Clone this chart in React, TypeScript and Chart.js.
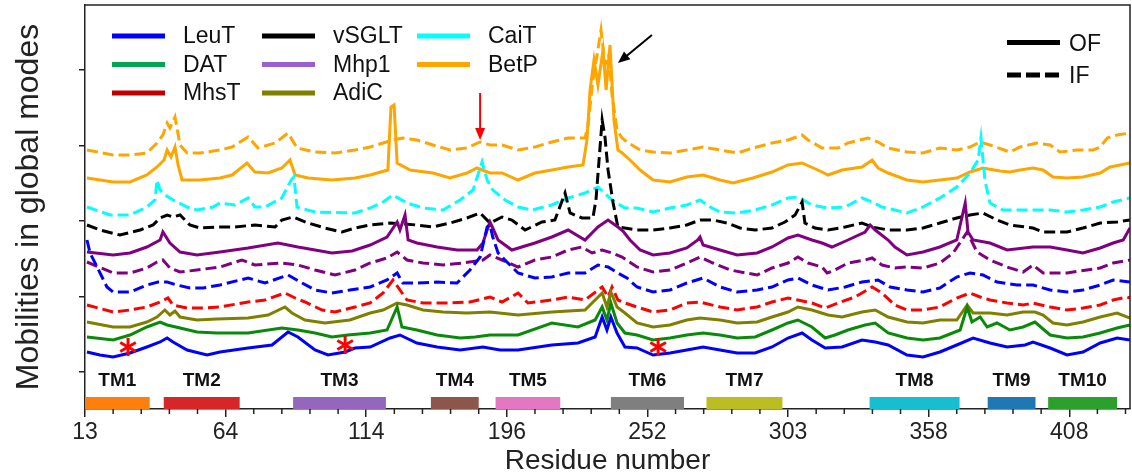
import React, { useEffect, useRef } from 'react';
import { Chart, registerables } from 'chart.js';

Chart.register(...registerables);

// ---- axis data ----
const tickPositions = [0, 50, 100, 150, 200, 250, 300, 350];
const tickLabels = ['13', '64', '114', '196', '252', '303', '358', '408'];
const xMax = 371.6;
const yTickValues = [37, 112.5, 188, 263.5, 339];
const yMax = 404;

// ---- legend data ----
const proteins = ['LeuT', 'DAT', 'MhsT', 'vSGLT', 'Mhp1', 'AdiC', 'CaiT', 'BetP'];
const legendColors = ['#0000FF', '#00A651', '#C00000', '#000000', '#9B5FD0', '#808000', '#00FFFF', '#FFA500'];
const lineColors = ['#0000FF', '#0A8A0A', '#FF0000', '#000000', '#800080', '#808000', '#00FFFF', '#FFA500'];
const stateNames = ['OF', 'IF'];

// ---- TM helices ----
const tmNames = ['TM1', 'TM2', 'TM3', 'TM4', 'TM5', 'TM6', 'TM7', 'TM8', 'TM9', 'TM10'];
const tmStart = [0, 28, 74, 123, 146, 187, 221, 279, 321, 342.5];
const tmEnd = [23, 55, 107, 140, 169, 213, 248, 311, 338, 367];
const tmColors = ['#ff7f0e', '#d62728', '#9467bd', '#8c564b', '#e377c2', '#7f7f7f', '#bcbd22', '#17becf', '#1f77b4', '#2ca02c'];

// ---- annotations ----
const asteriskX = [15.3, 92.5, 203.8];
const asteriskY = [62, 64, 62];
const arrowFrom: [number, number][] = [[140.5, 316], [201.6, 374]];
const arrowTo: [number, number][] = [[140.5, 269], [189.5, 346]];
const arrowColors = ['#FF0000', '#000000'];

// ---- series (alignment position, mobility) ----
const leuT_OF: [number, number][] = [
  [0.7, 57], [5.3, 54], [10, 52], [16, 56], [22, 62], [26.7, 67], [29.2, 71], [31.3, 67], [36.3, 59], [43.4, 54],
  [48, 57], [58, 61], [66.5, 64], [72.2, 77], [75.7, 72], [81.8, 59], [86.4, 54], [92.5, 57], [96, 61], [101.4, 62],
  [108.5, 71], [112, 74], [118, 66], [125.2, 62], [133.4, 59], [141.5, 62], [147.6, 59], [154, 59], [166, 64], [175.3, 66],
  [181.4, 72], [183.9, 92], [185.6, 79], [187, 92], [189.2, 76], [192, 62], [196.3, 61], [202, 54], [208, 56], [214, 59],
  [219.8, 62], [225.8, 59], [231.9, 56], [238.3, 56], [244.3, 62], [250, 71], [255, 76], [258.5, 69], [263.2, 61], [269.2, 62],
  [276.3, 69], [281, 67], [285.6, 64], [292.3, 54], [298, 52], [304, 57], [310, 64], [315.8, 71], [321.8, 66], [327.9, 62],
  [334.3, 64], [337.1, 67], [343.2, 61], [349.2, 54], [354.9, 57], [361, 66], [367, 71], [371.6, 69],
];

const dat_OF: [number, number][] = [
  [0.7, 72], [10, 69], [16, 74], [22, 82], [26.7, 87], [29.2, 84], [33.8, 81], [39.8, 77], [46.9, 76], [58, 76],
  [70, 81], [75.7, 79], [81.8, 76], [87.8, 72], [93.5, 74], [101.4, 76], [107.4, 79], [111, 102], [112.7, 82], [118, 79],
  [125.2, 74], [133.4, 71], [138.7, 72], [144, 74], [154, 74], [166, 86], [175.3, 82], [181.4, 89], [183.9, 102], [185.6, 89],
  [187, 106], [189.2, 86], [192, 76], [196.3, 74], [202, 69], [208, 71], [214, 74], [219.8, 76], [225.8, 74], [231.9, 71],
  [238.3, 72], [244.3, 79], [250, 86], [253.5, 89], [258.5, 82], [263.2, 71], [266.7, 74], [271.3, 79], [277.4, 84], [281, 86],
  [285.6, 76], [292.3, 71], [298, 69], [304, 71], [311.2, 79], [313.7, 102], [315.4, 87], [318.3, 92], [320.8, 82], [324.3, 86],
  [328.9, 79], [333.6, 82], [337.8, 87], [343.2, 74], [349.2, 71], [354.9, 72], [361, 76], [367, 81], [371.6, 84],
];

const adiC_OF: [number, number][] = [
  [0.7, 87], [10, 82], [16, 82], [22, 87], [25.6, 92], [28.4, 99], [30.2, 94], [32, 98], [33.8, 92], [39.8, 89],
  [46.9, 90], [58, 91], [65.1, 94], [71.1, 102], [73.6, 96], [78.2, 89], [85.3, 86], [94.2, 89], [101.4, 96], [106, 99],
  [111, 106], [114.5, 104], [120.2, 99], [127.3, 97], [135.8, 96], [144, 97], [154, 94], [166, 97], [177.8, 99], [183.9, 116],
  [185.6, 102], [187, 117], [189.2, 102], [192, 96], [196.3, 86], [202, 82], [208, 84], [214, 89], [218.7, 91], [225.8, 89],
  [231.9, 86], [239, 87], [244.3, 92], [250, 97], [253.5, 102], [258.5, 99], [264.2, 94], [269.2, 92], [276.3, 97], [281, 99],
  [285.6, 92], [292.3, 87], [298, 86], [304, 89], [310, 89], [313.7, 104], [315.8, 96], [321.8, 96], [327.9, 94], [333.6, 97],
  [337.8, 97], [340.7, 94], [344.2, 86], [349.2, 84], [354.9, 87], [361, 92], [367, 96], [371.6, 91],
];

const mhsT_IF: [number, number][] = [
  [0.7, 104], [10, 97], [16, 99], [22, 102], [26.7, 107], [29.5, 111], [31.3, 104], [36.3, 101], [42, 101], [48, 102],
  [58, 107], [64, 109], [71.1, 116], [74.7, 111], [78.2, 107], [84.3, 99], [88.9, 97], [96, 102], [101.4, 106], [106, 116],
  [109.5, 129], [112, 119], [114.5, 109], [120.2, 106], [129.8, 106], [136.9, 107], [144, 112], [148.3, 107], [154, 116], [157.5, 106],
  [166, 109], [171.8, 112], [177.8, 109], [183.9, 122], [186, 112], [187.4, 122], [189.5, 109], [192, 106], [196.3, 102], [202, 97],
  [208, 99], [214, 106], [218.7, 107], [225.8, 102], [231.9, 99], [239, 102], [244.3, 107], [250, 111], [253.5, 109], [258.5, 106],
  [263.2, 101], [267.8, 106], [273.8, 112], [279.9, 122], [283.4, 116], [288, 104], [292.3, 99], [298, 99], [304, 102], [310, 111],
  [314.7, 116], [318.3, 112], [321.8, 109], [327.9, 106], [333.6, 104], [337.1, 106], [343.2, 102], [349.2, 99], [354.9, 101], [361, 104],
  [365.6, 109], [370.5, 112], [371.6, 111],
];

const leuT_IF: [number, number][] = [
  [0.7, 169], [1.8, 156], [4.3, 142], [7.8, 122], [10, 117], [16, 117], [22, 124], [26, 127], [29.2, 127], [32.7, 124],
  [37.3, 121], [42, 121], [48, 124], [58, 131], [64, 126], [72.2, 134], [77.2, 126], [81.8, 119], [87.8, 116], [94.2, 119],
  [101.4, 122], [107.4, 129], [111, 136], [113, 126], [118, 126], [125.2, 127], [132.3, 126], [136.9, 139], [140.5, 152], [143, 182],
  [144, 184], [145, 172], [146.9, 156], [150.4, 146], [154, 136], [160, 131], [166, 132], [171.8, 136], [177.8, 136], [182.4, 144],
  [186, 142], [189.5, 136], [192.7, 131], [196.3, 122], [202, 117], [208, 119], [214, 126], [219.8, 131], [225.8, 122], [231.9, 117],
  [239, 119], [244.3, 122], [250, 129], [253.5, 131], [258.5, 124], [264.2, 119], [270.3, 122], [276.3, 127], [282, 129], [286.3, 122],
  [292.3, 119], [298, 117], [304, 121], [310, 132], [314.7, 136], [319.3, 134], [324.3, 127], [331.4, 124], [337.1, 124], [343.2, 119],
  [349.2, 117], [354.9, 119], [361, 124], [365.6, 129], [371.6, 127],
];

const mhp1_IF: [number, number][] = [
  [0.7, 147], [10, 136], [16, 136], [22, 141], [25.6, 147], [27.7, 149], [30.2, 141], [33.8, 137], [39.8, 139], [48, 142],
  [55.8, 149], [60.4, 144], [70, 146], [75.7, 144], [81.8, 139], [88.9, 134], [96, 139], [101.4, 146], [107.4, 151], [111, 157],
  [114.5, 149], [120.2, 146], [127.3, 144], [134.4, 146], [141.5, 149], [144, 154], [148.3, 149], [154, 142], [160, 149], [166, 152],
  [171.8, 159], [176.7, 162], [180.3, 156], [183.9, 159], [187.4, 156], [191, 152], [196.3, 142], [202, 137], [208, 139], [214, 146],
  [218.7, 152], [223.3, 146], [229.4, 139], [239, 134], [244.3, 141], [250, 146], [253.5, 152], [257.1, 146], [262.1, 142], [263.9, 136],
  [266.7, 139], [271.3, 146], [277.4, 149], [279.9, 151], [283.4, 144], [288, 141], [292.3, 142], [298, 141], [304, 146], [308.7, 156],
  [313.7, 177], [317.2, 157], [321.8, 149], [327.9, 142], [333.6, 137], [337.1, 144], [340.7, 136], [349.2, 136], [356.3, 139], [361, 141],
  [365.6, 146], [371.6, 149],
];

const mhp1_OF: [number, number][] = [
  [0.7, 157], [10, 154], [16, 156], [22, 162], [26.7, 169], [27.7, 177], [30.2, 166], [33.8, 157], [39.8, 154], [48, 157],
  [58, 161], [68.6, 166], [75.7, 162], [81.8, 159], [87.8, 156], [95, 158], [101.4, 164], [107.4, 172], [111, 187], [112, 179],
  [113.8, 194], [114.9, 169], [118, 166], [125.2, 162], [132.3, 159], [139.4, 159], [141.5, 166], [143, 179], [144, 187], [145, 181],
  [146.9, 169], [151.8, 159], [160, 166], [166, 172], [171.8, 179], [177.8, 169], [182.4, 182], [186, 189], [189.5, 182], [191.3, 178],
  [193.8, 169], [197.4, 159], [202, 154], [208, 156], [214, 161], [217.9, 169], [218.7, 172], [219.8, 164], [225.8, 159], [231.9, 154],
  [239, 156], [244.3, 162], [250, 171], [253.5, 174], [258.5, 169], [262.1, 166], [265.6, 162], [271.3, 169], [277.4, 177], [279.2, 184],
  [281, 179], [285.6, 169], [288, 162], [292.3, 154], [298, 157], [304, 162], [310, 169], [313, 206], [314, 177], [315.8, 169],
  [321.8, 166], [327.9, 159], [337.1, 162], [343.2, 162], [349.2, 159], [354.9, 156], [361, 161], [365.6, 166], [369.2, 169], [371.6, 181],
];

const vSGLT_IF: [number, number][] = [
  [0.7, 184], [5.3, 179], [12.4, 174], [19.6, 179], [24.2, 184], [26.7, 191], [29.2, 194], [31.3, 192], [33.8, 194], [37.3, 184],
  [40.9, 181], [48, 182], [53.3, 182], [60.4, 184], [67.6, 182], [70, 189], [74, 192], [79.3, 186], [85.3, 181], [91.4, 177],
  [96, 181], [101.4, 184], [108.5, 186], [118, 184], [123.7, 182], [129.8, 186], [135.8, 191], [140.5, 196], [144, 186], [148.3, 192],
  [151.8, 189], [156.5, 179], [162.5, 187], [167.1, 189], [170.7, 216], [172.5, 196], [176.7, 191], [180.6, 191], [181.7, 209], [182.8, 249],
  [183.9, 289], [184.9, 272], [186, 239], [187.8, 206], [189.5, 182], [196.3, 179], [202, 179], [208, 181], [214, 184], [218.7, 189],
  [223.3, 189], [228.3, 186], [232.9, 181], [238.3, 179], [244.3, 181], [248.9, 187], [252.5, 194], [255, 207], [256, 186], [259.6, 181],
  [264.2, 179], [270.3, 182], [276.3, 186], [279.9, 182], [285.6, 179], [292.3, 179], [298, 181], [304, 186], [310, 191], [314.7, 194],
  [319.3, 196], [324.3, 189], [328.9, 184], [337.1, 181], [340.7, 177], [349.2, 177], [354.9, 181], [361, 186], [367, 187], [371.6, 189],
];

const caiT_IF: [number, number][] = [
  [0.7, 202], [8.9, 194], [16, 194], [22, 202], [24.9, 209], [25.6, 229], [26.7, 219], [28.4, 214], [31.3, 209], [36.3, 202],
  [39.8, 199], [45.5, 202], [48, 206], [53.3, 204], [58, 211], [60.4, 202], [64, 202], [70, 211], [73.3, 229], [74.3, 232],
  [75.4, 202], [81.8, 197], [96, 196], [101.4, 201], [106, 207], [109.5, 214], [114.5, 206], [120.2, 201], [127.3, 199], [133.4, 209],
  [138, 219], [141.2, 247], [143, 229], [145, 219], [149.4, 209], [154, 202], [159, 199], [166, 204], [171.8, 211], [177.8, 216],
  [182.4, 222], [187.4, 209], [192, 201], [196.3, 201], [202, 197], [208, 201], [214, 204], [218.7, 209], [222.3, 202], [225.8, 197],
  [231.9, 196], [238.3, 199], [244.3, 204], [250, 211], [253.5, 212], [258.5, 204], [264.2, 201], [270.3, 202], [276.3, 211], [279.9, 207],
  [283.4, 202], [288, 199], [292.3, 196], [298, 202], [304, 211], [310, 222], [314.7, 236], [317.6, 249], [318.6, 271], [320, 229],
  [321.8, 206], [326.4, 199], [333.6, 199], [343.2, 199], [349.2, 197], [354.9, 199], [361, 202], [365.6, 207], [371.6, 211],
];

const betP_OF: [number, number][] = [
  [0.7, 231], [10, 227], [16, 227], [22, 234], [25.6, 242], [28.1, 249], [29.2, 259], [30.6, 252], [32, 262], [33.1, 244],
  [34.5, 229], [40.9, 229], [48, 231], [52.3, 234], [57.6, 246], [60.4, 237], [65.1, 236], [70, 241], [72.9, 249], [74.7, 234],
  [79.3, 231], [87.8, 229], [96, 231], [101.4, 234], [107.7, 239], [108.8, 302], [109.9, 304], [111, 246], [115.6, 239], [123.7, 236],
  [129.8, 231], [135.8, 236], [139.4, 241], [144, 236], [148.3, 236], [154, 229], [160, 236], [166, 239], [171.8, 242], [177.1, 244],
  [178.5, 269], [179.6, 319], [181, 349], [182.4, 324], [184.2, 359], [185.3, 319], [186.7, 364], [188.1, 289], [189.5, 259], [191, 256],
  [193.8, 249], [197.4, 239], [202, 229], [208, 227], [214, 232], [219.8, 234], [225.8, 229], [230.4, 226], [237.5, 231], [244.3, 237],
  [250, 244], [255, 246], [262.1, 237], [264.2, 234], [269.2, 239], [276.3, 242], [279.9, 249], [282, 241], [285.6, 236], [292.3, 229],
  [298, 227], [304, 229], [310, 231], [314.7, 237], [319.3, 241], [325.4, 238], [328.9, 237], [332.5, 239], [337.1, 241], [340.7, 239],
  [344.2, 232], [349.2, 231], [354.9, 232], [361, 236], [364.5, 242], [371.6, 246],
];

const betP_IF: [number, number][] = [
  [0.7, 259], [10, 254], [16, 254], [22, 256], [25.6, 266], [27.7, 274], [29.2, 286], [30.2, 281], [32, 292], [33.8, 264],
  [36.3, 256], [40.9, 256], [48, 259], [52.3, 262], [58, 272], [61.5, 261], [67.6, 266], [72.2, 276], [75.4, 261], [81.8, 257],
  [88.9, 256], [96, 259], [101.4, 262], [106, 266], [109.5, 269], [113, 271], [118, 269], [123.7, 264], [129.8, 259], [135.8, 261],
  [140.5, 267], [144, 264], [148.3, 264], [154, 259], [160, 262], [166, 267], [171.8, 271], [177.8, 271], [178.9, 284], [180.6, 329],
  [182.1, 354], [183.5, 379], [184.9, 344], [186.3, 354], [187.4, 314], [189.2, 279], [191, 271], [192.7, 267], [197.4, 259], [202, 257],
  [208, 256], [214, 259], [219.8, 262], [225.8, 259], [231.9, 256], [237.5, 261], [244.3, 266], [250, 269], [255, 274], [257.1, 269],
  [262.1, 261], [267.8, 261], [271.3, 266], [278.4, 271], [282, 267], [285.6, 261], [292.3, 257], [298, 256], [304, 261], [310, 259],
  [314.7, 262], [318.3, 267], [321.8, 264], [328.9, 257], [332.5, 262], [338.5, 266], [343.2, 264], [346.7, 257], [352.8, 259], [358.5, 259],
  [361, 262], [363.5, 271], [367, 274], [371.6, 276],
];

const seriesData = [leuT_OF, dat_OF, adiC_OF, mhsT_IF, leuT_IF, mhp1_IF, mhp1_OF, vSGLT_IF, caiT_IF, betP_OF, betP_IF];
const seriesProtein = ['LeuT', 'DAT', 'AdiC', 'MhsT', 'LeuT', 'Mhp1', 'Mhp1', 'vSGLT', 'CaiT', 'BetP', 'BetP'];
const seriesState = ['OF', 'OF', 'OF', 'IF', 'IF', 'IF', 'OF', 'IF', 'IF', 'OF', 'IF'];

const FONT = "'Liberation Sans', Arial, sans-serif";
const AXIS = '#222222';

const overlayPlugin = {
  id: 'overlay',
  afterDatasetsDraw(chart: any) {
    const { ctx, chartArea, scales } = chart;
    const xs = scales.x;
    const ys = scales.y;
    ctx.save();

    // frame top/right
    ctx.strokeStyle = AXIS;
    ctx.lineWidth = 1.5;
    ctx.beginPath();
    ctx.moveTo(chartArea.left, chartArea.top);
    ctx.lineTo(chartArea.right, chartArea.top);
    ctx.lineTo(chartArea.right, chartArea.bottom);
    ctx.stroke();

    // minor x ticks
    ctx.lineWidth = 1.5;
    for (let v = 10; v < xMax; v += 10) {
      if (v % 50 === 0) continue;
      const px = xs.getPixelForValue(v);
      ctx.beginPath();
      ctx.moveTo(px, chartArea.bottom);
      ctx.lineTo(px, chartArea.bottom + 5);
      ctx.stroke();
    }

    // TM bars + labels
    ctx.font = `bold 19px ${FONT}`;
    ctx.textAlign = 'center';
    ctx.textBaseline = 'middle';
    tmNames.forEach((name, i) => {
      const x0 = xs.getPixelForValue(tmStart[i]);
      const x1 = xs.getPixelForValue(tmEnd[i]);
      ctx.fillStyle = tmColors[i];
      ctx.fillRect(x0, chartArea.bottom - 12, x1 - x0, 12);
      ctx.fillStyle = '#111';
      ctx.fillText(name, (x0 + x1) / 2, chartArea.bottom - 28);
    });

    // asterisks
    ctx.strokeStyle = '#FF0000';
    ctx.lineWidth = 3;
    asteriskX.forEach((ax, i) => {
      const cx = xs.getPixelForValue(ax);
      const cy = ys.getPixelForValue(asteriskY[i]);
      const r = 9;
      for (let k = 0; k < 3; k++) {
        const a = Math.PI / 2 + (k * Math.PI) / 3;
        ctx.beginPath();
        ctx.moveTo(cx - r * Math.cos(a), cy - r * Math.sin(a));
        ctx.lineTo(cx + r * Math.cos(a), cy + r * Math.sin(a));
        ctx.stroke();
      }
    });

    // arrows
    arrowFrom.forEach((f, i) => {
      const x0 = xs.getPixelForValue(f[0]);
      const y0 = ys.getPixelForValue(f[1]);
      const x1 = xs.getPixelForValue(arrowTo[i][0]);
      const y1 = ys.getPixelForValue(arrowTo[i][1]);
      const ang = Math.atan2(y1 - y0, x1 - x0);
      const head = 12;
      ctx.strokeStyle = arrowColors[i];
      ctx.fillStyle = arrowColors[i];
      ctx.lineWidth = 2;
      ctx.beginPath();
      ctx.moveTo(x0, y0);
      ctx.lineTo(x1 - head * 0.8 * Math.cos(ang), y1 - head * 0.8 * Math.sin(ang));
      ctx.stroke();
      ctx.beginPath();
      ctx.moveTo(x1, y1);
      ctx.lineTo(x1 - head * Math.cos(ang) + 5 * Math.sin(ang), y1 - head * Math.sin(ang) - 5 * Math.cos(ang));
      ctx.lineTo(x1 - head * Math.cos(ang) - 5 * Math.sin(ang), y1 - head * Math.sin(ang) + 5 * Math.cos(ang));
      ctx.closePath();
      ctx.fill();
    });

    // protein legend (3 columns, column-major)
    ctx.font = `23px ${FONT}`;
    ctx.textAlign = 'left';
    ctx.textBaseline = 'middle';
    const colX = [27, 177, 332];
    const rowY = [31, 59.5, 88];
    proteins.forEach((name, i) => {
      const col = Math.floor(i / 3);
      const row = i % 3;
      const lx = chartArea.left + colX[col];
      const ly = chartArea.top + rowY[row];
      ctx.strokeStyle = legendColors[i];
      ctx.lineWidth = 5;
      ctx.setLineDash([]);
      ctx.beginPath();
      ctx.moveTo(lx, ly);
      ctx.lineTo(lx + 53, ly);
      ctx.stroke();
      ctx.fillStyle = '#111';
      ctx.fillText(name, lx + 71, ly + 1);
    });

    // state legend
    const sRowY = [37.5, 70];
    stateNames.forEach((name, i) => {
      const lx = chartArea.right - 123;
      const ly = chartArea.top + sRowY[i];
      ctx.strokeStyle = '#000';
      ctx.lineWidth = 5;
      ctx.setLineDash(i === 0 ? [] : [14, 5]);
      ctx.beginPath();
      ctx.moveTo(lx, ly);
      ctx.lineTo(lx + 53, ly);
      ctx.stroke();
      ctx.setLineDash([]);
      ctx.fillStyle = '#111';
      ctx.fillText(name, chartArea.right - 61, ly + 2);
    });

    ctx.restore();
  },
};

export default function App() {
  const canvasRef = useRef<HTMLCanvasElement | null>(null);

  useEffect(() => {
    if (!canvasRef.current) return;
    Chart.defaults.font.family = FONT;
    const datasets = seriesData.map((arr, i) => {
      const pi = proteins.indexOf(seriesProtein[i]);
      return {
        label: `${seriesProtein[i]} ${seriesState[i]}`,
        data: arr.map(([x, y]) => ({ x, y })),
        borderColor: lineColors[pi],
        backgroundColor: lineColors[pi],
        borderWidth: 3,
        borderDash: seriesState[i] === 'IF' ? [11, 5] : [],
        pointRadius: 0,
        tension: 0,
        fill: false,
      };
    });

    const chart = new Chart(canvasRef.current, {
      type: 'line',
      data: { datasets },
      options: {
        animation: false,
        responsive: true,
        maintainAspectRatio: false,
        layout: { padding: { left: 0, top: 5, right: 2, bottom: 0 } },
        plugins: { legend: { display: false }, tooltip: { enabled: false } },
        scales: {
          x: {
            type: 'linear',
            min: 0,
            max: xMax,
            afterBuildTicks: (scale: any) => {
              scale.ticks = tickPositions.map((v) => ({ value: v }));
            },
            afterFit: (scale: any) => {
              scale.height = 65;
            },
            ticks: {
              autoSkip: false,
              maxRotation: 0,
              padding: 2,
              color: AXIS,
              font: { size: 23 },
              callback: (value: any) => {
                const idx = tickPositions.indexOf(Number(value));
                return idx >= 0 ? tickLabels[idx] : '';
              },
            },
            grid: { drawOnChartArea: false, drawTicks: true, tickLength: 8, color: AXIS, lineWidth: 1.5 },
            border: { display: true, color: AXIS, width: 1.5 },
            title: { display: true, text: 'Residue number', color: AXIS, font: { size: 28, lineHeight: 0.9 }, padding: { top: 0, bottom: 0 } },
          },
          y: {
            type: 'linear',
            min: 0,
            max: yMax,
            afterBuildTicks: (scale: any) => {
              scale.ticks = yTickValues.map((v) => ({ value: v }));
            },
            afterFit: (scale: any) => {
              scale.width = 85;
            },
            ticks: { display: false },
            grid: { drawOnChartArea: false, drawTicks: true, tickLength: 6, color: AXIS, lineWidth: 1.5 },
            border: { display: true, color: AXIS, width: 1.5 },
            title: { display: true, text: 'Mobilities in global modes', color: AXIS, font: { size: 32 }, padding: { top: 10, bottom: 0 } },
          },
        },
      },
      plugins: [overlayPlugin],
    });
    return () => chart.destroy();
  }, []);

  return (
    <div style={{ position: 'fixed', left: 0, top: 0, width: 1132, height: 474, background: '#fff' }}>
      <canvas ref={canvasRef} />
    </div>
  );
}
